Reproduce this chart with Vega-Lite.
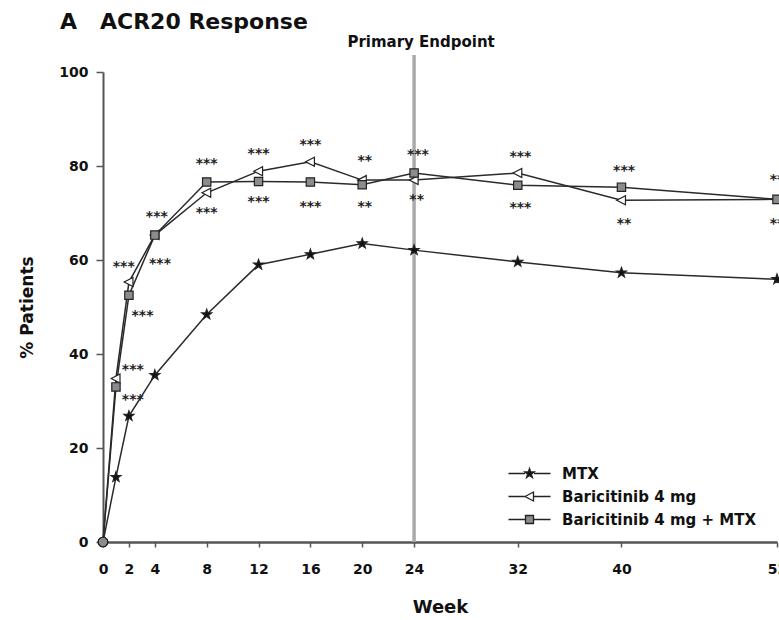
{
  "$schema": "https://vega.github.io/schema/vega-lite/v6.json",
  "width": 674,
  "height": 470,
  "autosize": {"type": "none"},
  "padding": {"left": 103, "top": 72, "right": 2, "bottom": 78},
  "background": "white",
  "config": {
    "font": "DejaVu Sans",
    "view": {"stroke": null},
    "axis": {"grid": false, "labelFont": "DejaVu Sans", "titleFont": "DejaVu Sans", "labelFontWeight": "bold", "titleFontWeight": "bold", "labelColor": "#111", "titleColor": "#111", "domainColor": "#555", "tickColor": "#555"}
  },
  "title": {
    "text": "A\u00a0\u00a0\u00a0ACR20 Response",
    "anchor": "start",
    "frame": "group",
    "dx": -43,
    "offset": -16,
    "baseline": "alphabetic",
    "fontSize": 22,
    "fontWeight": "bold",
    "font": "DejaVu Sans",
    "color": "#111"
  },
  "resolve": {"scale": {"shape": "independent", "fill": "independent", "stroke": "independent"}, "legend": {"shape": "independent", "fill": "independent", "stroke": "independent"}},
  "datasets": {
    "series": [
      {"treatment": "MTX", "week": 0, "pct": 0},
      {"treatment": "MTX", "week": 1, "pct": 13.8},
      {"treatment": "MTX", "week": 2, "pct": 26.8},
      {"treatment": "MTX", "week": 4, "pct": 35.5},
      {"treatment": "MTX", "week": 8, "pct": 48.4},
      {"treatment": "MTX", "week": 12, "pct": 59.0},
      {"treatment": "MTX", "week": 16, "pct": 61.2},
      {"treatment": "MTX", "week": 20, "pct": 63.5},
      {"treatment": "MTX", "week": 24, "pct": 62.1},
      {"treatment": "MTX", "week": 32, "pct": 59.6},
      {"treatment": "MTX", "week": 40, "pct": 57.3},
      {"treatment": "MTX", "week": 52, "pct": 55.9},
      {"treatment": "Baricitinib 4 mg", "week": 0, "pct": 0},
      {"treatment": "Baricitinib 4 mg", "week": 1, "pct": 34.8},
      {"treatment": "Baricitinib 4 mg", "week": 2, "pct": 55.3},
      {"treatment": "Baricitinib 4 mg", "week": 4, "pct": 65.3},
      {"treatment": "Baricitinib 4 mg", "week": 8, "pct": 74.3},
      {"treatment": "Baricitinib 4 mg", "week": 12, "pct": 78.9},
      {"treatment": "Baricitinib 4 mg", "week": 16, "pct": 80.9},
      {"treatment": "Baricitinib 4 mg", "week": 20, "pct": 77.0},
      {"treatment": "Baricitinib 4 mg", "week": 24, "pct": 77.0},
      {"treatment": "Baricitinib 4 mg", "week": 32, "pct": 78.5},
      {"treatment": "Baricitinib 4 mg", "week": 40, "pct": 72.7},
      {"treatment": "Baricitinib 4 mg", "week": 52, "pct": 72.9},
      {"treatment": "Baricitinib 4 mg + MTX", "week": 0, "pct": 0},
      {"treatment": "Baricitinib 4 mg + MTX", "week": 1, "pct": 33.0},
      {"treatment": "Baricitinib 4 mg + MTX", "week": 2, "pct": 52.5},
      {"treatment": "Baricitinib 4 mg + MTX", "week": 4, "pct": 65.3},
      {"treatment": "Baricitinib 4 mg + MTX", "week": 8, "pct": 76.6},
      {"treatment": "Baricitinib 4 mg + MTX", "week": 12, "pct": 76.7},
      {"treatment": "Baricitinib 4 mg + MTX", "week": 16, "pct": 76.6},
      {"treatment": "Baricitinib 4 mg + MTX", "week": 20, "pct": 76.0},
      {"treatment": "Baricitinib 4 mg + MTX", "week": 24, "pct": 78.5},
      {"treatment": "Baricitinib 4 mg + MTX", "week": 32, "pct": 75.9},
      {"treatment": "Baricitinib 4 mg + MTX", "week": 40, "pct": 75.5},
      {"treatment": "Baricitinib 4 mg + MTX", "week": 52, "pct": 72.9}
    ],
    "stars": [
      {"week": 2.3, "pct": 37.2, "label": "***"},
      {"week": 2.3, "pct": 30.9, "label": "***"},
      {"week": 1.6, "pct": 59.1, "label": "***"},
      {"week": 3.05, "pct": 48.8, "label": "***"},
      {"week": 4.15, "pct": 69.7, "label": "***"},
      {"week": 4.4, "pct": 59.8, "label": "***"},
      {"week": 8, "pct": 81.0, "label": "***"},
      {"week": 8, "pct": 70.6, "label": "***"},
      {"week": 12, "pct": 83.2, "label": "***"},
      {"week": 12, "pct": 72.9, "label": "***"},
      {"week": 16, "pct": 85.1, "label": "***"},
      {"week": 16, "pct": 72.0, "label": "***"},
      {"week": 20.2, "pct": 81.8, "label": "**"},
      {"week": 20.2, "pct": 71.9, "label": "**"},
      {"week": 24.3, "pct": 82.9, "label": "***"},
      {"week": 24.2, "pct": 73.4, "label": "**"},
      {"week": 32.2, "pct": 82.6, "label": "***"},
      {"week": 32.2, "pct": 71.8, "label": "***"},
      {"week": 40.2, "pct": 79.6, "label": "***"},
      {"week": 40.2, "pct": 68.2, "label": "**"},
      {"week": 52, "pct": 77.7, "label": "**"},
      {"week": 52, "pct": 68.4, "label": "**"}
    ]
  },
  "layer": [
    {
      "data": {"values": [{"week": 24, "lo": 0, "hi": 103.6}]},
      "mark": {"type": "rule", "color": "#aaaaaa", "strokeWidth": 3.5, "clip": false},
      "encoding": {
        "x": {"field": "week", "type": "quantitative", "scale": {"domain": [0, 52], "nice": false, "zero": false}},
        "y": {"field": "lo", "type": "quantitative", "scale": {"domain": [0, 100], "nice": false}},
        "y2": {"field": "hi"}
      }
    },
    {
      "data": {"values": [{"week": 24, "pct": 106.3, "label": "Primary Endpoint"}]},
      "mark": {"type": "text", "font": "DejaVu Sans", "fontWeight": "bold", "fontSize": 15, "color": "#111", "baseline": "middle", "align": "center", "dx": 7, "clip": false},
      "encoding": {
        "x": {"field": "week", "type": "quantitative"},
        "y": {"field": "pct", "type": "quantitative"},
        "text": {"field": "label"}
      }
    },
    {
      "data": {"name": "series"},
      "mark": {"type": "line", "color": "#2a2a2a", "strokeWidth": 1.5, "clip": false},
      "encoding": {
        "x": {
          "field": "week", "type": "quantitative",
          "scale": {"domain": [0, 52], "nice": false, "zero": false},
          "axis": {"values": [0, 2, 4, 8, 12, 16, 20, 24, 32, 40, 52], "title": "Week", "tickSize": 5, "tickWidth": 1.5, "domainWidth": 2.5, "labelPadding": 15, "labelFontSize": 14, "labelFlush": false, "labelOverlap": false, "titleFontSize": 18, "titlePadding": 22}
        },
        "y": {
          "field": "pct", "type": "quantitative",
          "scale": {"domain": [0, 100], "nice": false},
          "axis": {"values": [0, 20, 40, 60, 80, 100], "title": "% Patients", "tickSize": 7, "tickWidth": 1.5, "domainWidth": 2, "labelPadding": 8, "labelFontSize": 14, "titleFontSize": 17, "titlePadding": 22}
        },
        "detail": {"field": "treatment", "type": "nominal"}
      }
    },
    {
      "data": {"name": "series"},
      "mark": {"type": "point", "filled": true, "opacity": 1, "stroke": "#222222", "strokeWidth": 1.2, "size": 90, "clip": false},
      "encoding": {
        "x": {"field": "week", "type": "quantitative"},
        "y": {"field": "pct", "type": "quantitative"},
        "shape": {
          "condition": {"test": "datum.week === 0", "value": "circle"},
          "field": "treatment", "type": "nominal",
          "scale": {"domain": ["MTX", "Baricitinib 4 mg", "Baricitinib 4 mg + MTX"], "range": ["M0,-1.1L0.259,-0.356L1.046,-0.34L0.418,0.136L0.647,0.89L0,0.44L-0.647,0.89L-0.418,0.136L-1.046,-0.34L-0.259,-0.356Z", "M-1,0L0.85,-0.95L0.85,0.95Z", "M-0.88,-0.88H0.88V0.88H-0.88Z"]},
          "legend": null
        },
        "fill": {
          "field": "treatment", "type": "nominal",
          "scale": {"domain": ["MTX", "Baricitinib 4 mg", "Baricitinib 4 mg + MTX"], "range": ["#111111", "#ffffff", "#8c8c8c"]},
          "legend": null
        }
      }
    },
    {
      "data": {"name": "series"},
      "mark": {"type": "point", "filled": true, "opacity": 0, "strokeWidth": 1.3, "size": 90, "clip": false},
      "encoding": {
        "x": {"field": "week", "type": "quantitative"},
        "y": {"field": "pct", "type": "quantitative"},
        "shape": {
          "field": "treatment", "type": "nominal",
          "scale": {"domain": ["MTX", "Baricitinib 4 mg", "Baricitinib 4 mg + MTX"], "range": ["M-4.2,0H-0.9M0.9,0H4.2M0,-1L0.235,-0.324L0.951,-0.309L0.38,0.124L0.588,0.809L0,0.4L-0.588,0.809L-0.38,0.124L-0.951,-0.309L-0.235,-0.324Z", "M-4.2,0H-0.9M0.8,0H4.2M-0.9,0L0.8,-0.9L0.8,0.9Z", "M-4.2,0H-0.8M0.8,0H4.2M-0.8,-0.8H0.8V0.8H-0.8Z"]},
          "legend": {
            "title": null, "orient": "none", "legendX": 419, "legendY": 394, "padding": 0,
            "symbolSize": 100, "symbolStrokeWidth": 1.3, "symbolOpacity": 1,
            "labelFont": "DejaVu Sans", "labelFontWeight": "bold", "labelFontSize": 15, "labelColor": "#111", "labelOffset": 25, "labelLimit": 400, "rowPadding": 7
          }
        },
        "fill": {
          "field": "treatment", "type": "nominal",
          "scale": {"domain": ["MTX", "Baricitinib 4 mg", "Baricitinib 4 mg + MTX"], "range": ["#111111", "#ffffff", "#8c8c8c"]},
          "legend": {
            "title": null, "orient": "none", "legendX": 419, "legendY": 394, "padding": 0,
            "symbolSize": 100, "symbolStrokeWidth": 1.3, "symbolOpacity": 1,
            "labelFont": "DejaVu Sans", "labelFontWeight": "bold", "labelFontSize": 15, "labelColor": "#111", "labelOffset": 25, "labelLimit": 400, "rowPadding": 7
          }
        },
        "stroke": {
          "field": "treatment", "type": "nominal",
          "scale": {"domain": ["MTX", "Baricitinib 4 mg", "Baricitinib 4 mg + MTX"], "range": ["#222222", "#222222", "#222222"]},
          "legend": {
            "title": null, "orient": "none", "legendX": 419, "legendY": 394, "padding": 0,
            "symbolSize": 100, "symbolStrokeWidth": 1.3, "symbolOpacity": 1,
            "labelFont": "DejaVu Sans", "labelFontWeight": "bold", "labelFontSize": 15, "labelColor": "#111", "labelOffset": 25, "labelLimit": 400, "rowPadding": 7
          }
        }
      }
    },
    {
      "data": {"name": "stars"},
      "mark": {"type": "text", "font": "DejaVu Sans", "fontWeight": "bold", "fontSize": 14, "color": "#222", "align": "center", "baseline": "alphabetic", "dy": 7, "clip": false},
      "encoding": {
        "x": {"field": "week", "type": "quantitative"},
        "y": {"field": "pct", "type": "quantitative"},
        "text": {"field": "label"}
      }
    }
  ]
}
